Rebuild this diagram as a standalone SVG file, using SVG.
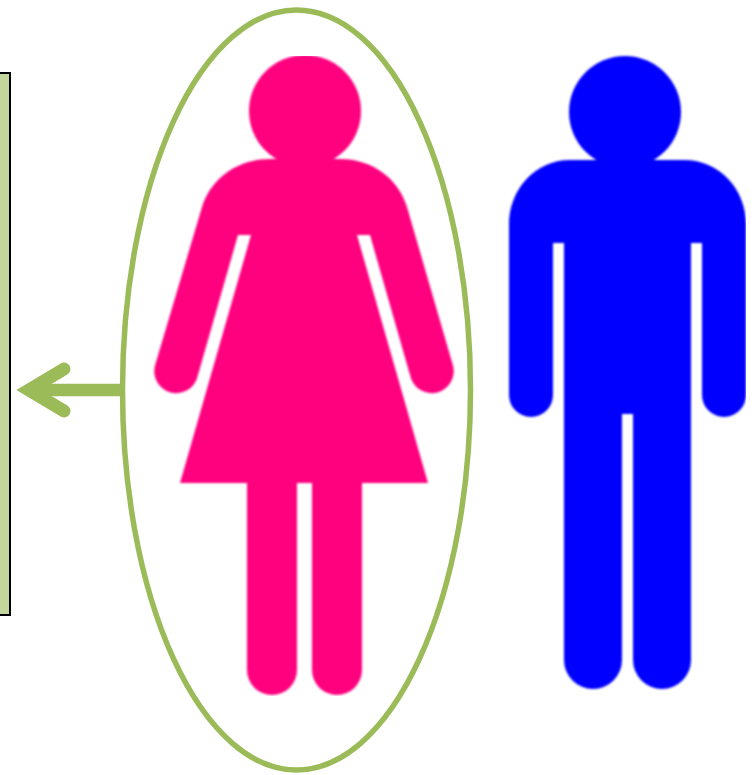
<svg xmlns="http://www.w3.org/2000/svg" width="754" height="775" viewBox="0 0 754 775">
  <style>
    .green { fill: none; stroke: #9bbb59; }
    .woman { fill: #ff007f; }
    .man { fill: #0000ff; }
  </style>
  <defs>
    <filter id="soft" x="-5%" y="-5%" width="110%" height="110%"><feGaussianBlur stdDeviation="0.9"/></filter>
    <clipPath id="wclip"><rect x="150" y="56" width="310" height="640"/></clipPath>
    <clipPath id="mclip"><rect x="500" y="50" width="246" height="650"/></clipPath>
  </defs>
  <rect width="754" height="775" fill="#ffffff"/>
  <g id="box">
    <rect x="-3" y="73" width="13" height="542" fill="#c3d69b" stroke="#000000" stroke-width="2"/>
  </g>
  <g id="woman" clip-path="url(#wclip)">
    <g class="woman" filter="url(#soft)">
      <circle cx="305" cy="111" r="56"/>
      <path d="M270 159H340C372 159 398 178 407 207L453 365.500A22 22 0 0 1 411 378.500L370 235H357L428 483H362V670A25 25 0 0 1 312 670V483H297V670A25 25 0 0 1 247 670V483H180L251 235H238L197 378.500A22 22 0 0 1 155 365.500L202 207C211 178 238 159 270 159Z"/>
    </g>
  </g>
  <g id="man" clip-path="url(#mclip)">
    <g class="man" filter="url(#soft)">
      <circle cx="625" cy="112" r="56"/>
      <path d="M570 160H684C720 160 746 190 746 224V395A22 22 0 0 1 702 395V243H691V660A29 29 0 0 1 633 660V414H622V660A29 29 0 0 1 564 660V243H553V395A22 22 0 0 1 509 395V224C509 190 535 160 570 160Z"/>
    </g>
  </g>
  <g id="selection">
    <ellipse class="green" cx="296.500" cy="390" rx="174" ry="380" stroke-width="5.500"/>
  </g>
  <g id="connectors">
    <path class="green" d="M122 390H30" stroke-width="12.500"/>
    <path class="green" d="M64 369L29 390L64 411" stroke-width="13" stroke-linecap="round" stroke-linejoin="miter" stroke-miterlimit="6"/>
  </g>
</svg>
